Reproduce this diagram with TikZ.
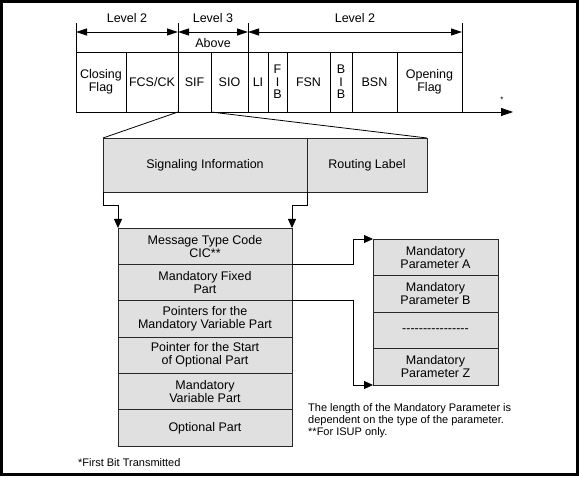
\documentclass[tikz,border=0pt]{standalone}
\usepackage{fontspec}
\setmainfont{Liberation Sans}
\usetikzlibrary{arrows.meta,positioning}
\definecolor{sigfill}{RGB}{224,224,224}
\definecolor{sigline}{RGB}{40,40,40}
\tikzstyle{arrow} = [line width=0.8pt,-{Triangle[length=9pt,width=8pt]},color=black]
\tikzstyle{dimline} = [line width=0.8pt,{Triangle[length=11pt,width=7pt]}-{Triangle[length=11pt,width=7pt]}]
\tikzstyle{field} = [rectangle, draw, line width=0.8pt, minimum height=60pt, inner sep=0pt, outer sep=0pt, align=center, font=\fontsize{12.5}{12.5}\selectfont, anchor=north west]
\tikzstyle{part} = [rectangle, draw=sigline, fill=sigfill, line width=0.8pt, inner sep=0pt, outer sep=0pt, align=center, font=\fontsize{12.5}{13}\selectfont, anchor=north west]
\tikzstyle{lvl} = [font=\fontsize{12.5}{13}\selectfont, inner sep=0pt]
\tikzstyle{note} = [font=\fontsize{11}{12}\selectfont, align=left, inner sep=0pt, anchor=north west]
\newcommand{\hyphrow}{\hbox{-}\hbox{-}\hbox{-}\hbox{-}}

\begin{document}
\begin{tikzpicture}[x=1pt, y=-1pt]
    \useasboundingbox (0,0) rectangle (579,478);
    % Frame
    \draw[line width=3pt] (1.5,1.5) rectangle (577,475);

    % Signal unit fields
    \foreach \nm/\x/\w/\txt in {cf/76/50/{Closing\\Flag}, fcs/126/52/{FCS/CK}, sif/178/33/{SIF},
        sio/211/37/{SIO}, li/248/20/{LI}, fib/268/19/{F\\I\\B}, fsn/287/43/{FSN},
        bib/330/22/{B\\I\\B}, bsn/352/45/{BSN}, of/397/65/{Opening\\Flag}}
        \node[field, minimum width=\w pt] (\nm) at (\x,52) {\txt};

    % Level separators
    \foreach \nm in {cf,sif,li}
        \draw[line width=0.8pt] (\nm.north west) -- ++(0,-29);
    \draw[line width=0.8pt] (of.north east) -- ++(0,-29);

    % Levels
    \draw[dimline] (76,32) -- (178,32);
    \draw[dimline] (178,32) -- (248,32);
    \draw[dimline] (248,32) -- (462,32);
    \node[lvl] (lvtwoa) at (127,18) {Level 2};
    \node[lvl] (lvthree) at (213,18) {Level 3};
    \node[lvl] (above) at (213,43) {Above};
    \node[lvl] (lvtwob) at (355,18) {Level 2};

    % Transmission direction
    \draw[arrow, -{Triangle[length=12pt,width=8pt]}] (of.south east) -- ++(51,0) coordinate (dirend);
    \node[font=\fontsize{8}{8}\selectfont, inner sep=0pt] (star) at (502,100) {*};

    % SIF expansion
    \node[part, minimum width=204pt, minimum height=54pt] (sig) at (103,138) {Signaling Information};
    \node[part, minimum width=120pt, minimum height=54pt, right=0pt of sig] (route) {Routing Label};
    \draw[line width=0.8pt] (sif.south west) -- (sig.north west);
    \draw[line width=0.8pt] (sio.south west) -- (route.north east);

    % Message parts
    \node[part, minimum width=174pt, minimum height=36.33pt] (msg) at (118,228) {Message Type Code\\CIC**};
    \node[part, minimum width=174pt, minimum height=36.33pt, below=0pt of msg] (fixed) {Mandatory Fixed\\Part};
    \node[part, minimum width=174pt, minimum height=36.33pt, below=0pt of fixed] (ptrs) {Pointers for the\\Mandatory Variable Part};
    \node[part, minimum width=174pt, minimum height=36.33pt, below=0pt of ptrs] (ptropt) {Pointer for the Start\\of Optional Part};
    \node[part, minimum width=174pt, minimum height=36.33pt, below=0pt of ptropt] (mvar) {Mandatory\\Variable Part};
    \node[part, minimum width=174pt, minimum height=36.33pt, below=0pt of mvar] (opt) {Optional Part};

    \draw[arrow] (sig.south west) -- ++(0,13) -| (msg.north west);
    \draw[arrow] (sig.south east) -- ++(0,13) -| (msg.north east);

    % Mandatory parameters
    \node[part, minimum width=125pt, minimum height=36.5pt] (pa) at (373,239) {Mandatory\\Parameter A};
    \node[part, minimum width=125pt, minimum height=36.5pt, below=0pt of pa] (pb) {Mandatory\\Parameter B};
    \node[part, minimum width=125pt, minimum height=36.5pt, below=0pt of pb] (pdots) {\hyphrow\hyphrow\hyphrow\hyphrow};
    \node[part, minimum width=125pt, minimum height=36.5pt, below=0pt of pdots] (pz) {Mandatory\\Parameter Z};

    \draw[arrow] (msg.south east) -- ++(61,0) |- (pa.north west);
    \draw[arrow] (fixed.south east) -- ++(61,0) |- (pz.south west);

    % Notes
    \node[note] (lennote) at (308,403) {The length of the Mandatory Parameter is\\dependent on the type of the parameter.\\**For ISUP only.};
    \node[note, anchor=west] (firstbit) at (78,463) {*First Bit Transmitted};
\end{tikzpicture}
\end{document}
